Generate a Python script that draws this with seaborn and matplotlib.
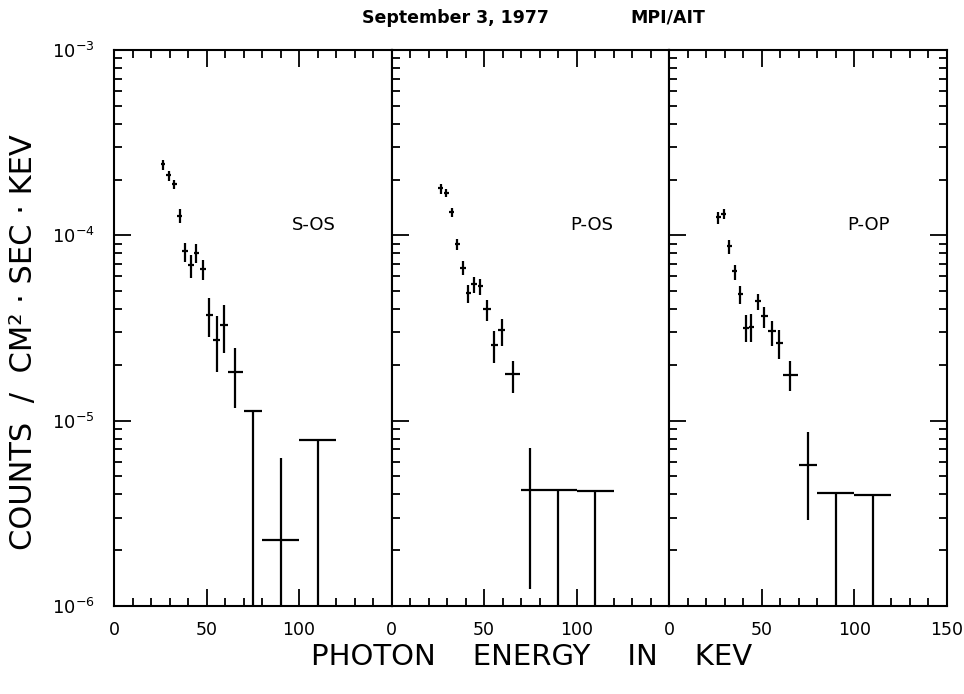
import numpy as np
import pandas as pd
import matplotlib
matplotlib.use('Agg')
import matplotlib.pyplot as plt
from matplotlib.ticker import FixedLocator, MultipleLocator, LogLocator, NullFormatter, FuncFormatter
import seaborn as sns

# ---------------------------------------------------------------
# data (Sept 3, 1977 flare)
# ---------------------------------------------------------------
detectors = ['S-OS', 'P-OS', 'P-OP']

# bin centres (keV) and half widths, same binning for all detectors
energy = [26.5, 29.5, 32.5, 35.5, 38.5, 41.5, 44.5, 48, 51.5, 55.5, 59.5, 65.5, 75, 90, 110]
half_width = [1.3, 1.3, 1.3, 1.3, 1.5, 1.5, 1.5, 1.5, 2, 2, 2, 4, 5, 10, 10]

# counts / cm2 sec keV, with upper and lower ends of the error bars
# (a lower end of 0 means the bar runs off the bottom of the plot)
sos_flux = [2.44e-4, 2.11e-4, 1.89e-4, 1.27e-4, 8.2e-5, 6.95e-5, 8.05e-5, 6.55e-5,
            3.72e-5, 2.73e-5, 3.28e-5, 1.82e-5, 1.13e-5, 2.28e-6, 7.85e-6]
sos_hi = [2.56e-4, 2.23e-4, 2.0e-4, 1.38e-4, 9.08e-5, 7.87e-5, 8.93e-5, 7.4e-5,
          4.58e-5, 3.65e-5, 4.19e-5, 2.46e-5, 1.13e-5, 6.26e-6, 7.85e-6]
sos_lo = [2.26e-4, 1.97e-4, 1.77e-4, 1.16e-4, 7.18e-5, 5.88e-5, 7.08e-5, 5.71e-5,
          2.84e-5, 1.82e-5, 2.32e-5, 1.17e-5, 0, 0, 0]

pos_flux = [1.79e-4, 1.69e-4, 1.33e-4, 8.97e-5, 6.68e-5, 4.87e-5, 5.43e-5, 5.32e-5,
            3.98e-5, 2.56e-5, 3.07e-5, 1.78e-5, 4.23e-6, 4.23e-6, 4.15e-6]
pos_hi = [1.88e-4, 1.77e-4, 1.41e-4, 9.59e-5, 7.23e-5, 5.37e-5, 5.96e-5, 5.78e-5,
          4.46e-5, 3.03e-5, 3.53e-5, 2.1e-5, 7.13e-6, 4.23e-6, 4.15e-6]
pos_lo = [1.68e-4, 1.6e-4, 1.25e-4, 8.37e-5, 6.08e-5, 4.31e-5, 4.9e-5, 4.78e-5,
          3.47e-5, 2.04e-5, 2.54e-5, 1.41e-5, 1.23e-6, 0, 0]

pop_flux = [1.26e-4, 1.31e-4, 8.75e-5, 6.38e-5, 4.84e-5, 3.17e-5, 3.22e-5, 4.42e-5,
            3.66e-5, 3.03e-5, 2.63e-5, 1.77e-5, 5.75e-6, 4.07e-6, 3.96e-6]
pop_hi = [1.34e-4, 1.38e-4, 9.4e-5, 6.89e-5, 5.3e-5, 3.7e-5, 3.78e-5, 4.8e-5,
          4.09e-5, 3.47e-5, 3.09e-5, 2.11e-5, 8.7e-6, 4.07e-6, 3.96e-6]
pop_lo = [1.15e-4, 1.23e-4, 7.96e-5, 5.71e-5, 4.24e-5, 2.65e-5, 2.65e-5, 3.94e-5,
          3.15e-5, 2.52e-5, 2.16e-5, 1.44e-5, 2.92e-6, 0, 0]

x_ticks = [0, 50, 100]
x_ticks_last = [0, 50, 100, 150]
y_ticks = [1e-6, 1e-5, 1e-4, 1e-3]

# long format table for FacetGrid
frames = []
for name, f, hi, lo in zip(detectors,
                           [sos_flux, pos_flux, pop_flux],
                           [sos_hi, pos_hi, pop_hi],
                           [sos_lo, pos_lo, pop_lo]):
    frames.append(pd.DataFrame({'detector': name, 'energy': energy, 'dE': half_width,
                                'flux': f, 'hi': hi, 'lo': lo}))
df = pd.concat(frames, ignore_index=True)

sns.set_style('ticks')
plt.rcParams['font.family'] = ['DejaVu Sans']
for key in ['text.color', 'axes.labelcolor', 'xtick.color', 'ytick.color', 'axes.edgecolor']:
    plt.rcParams[key] = 'black'
plt.rcParams['axes.linewidth'] = 1.5


def draw_spectrum(data, **kws):
    ax = plt.gca()
    yerr = [data['flux'] - data['lo'], data['hi'] - data['flux']]
    ax.errorbar(data['energy'], data['flux'], xerr=data['dE'], yerr=yerr,
                fmt='none', ecolor='black', elinewidth=1.6, capsize=0)


g = sns.FacetGrid(df, col='detector', col_order=detectors, sharex=False, sharey=True,
                  height=5.56, aspect=0.5, despine=False, gridspec_kws={'wspace': 0})
g.map_dataframe(draw_spectrum)
g.set_titles('')
g.set_axis_labels('', '')

fig = g.figure
fig.set_size_inches(9.64, 6.94)
fig.subplots_adjust(left=0.1183, right=0.982, top=0.928, bottom=0.1268, wspace=0)


def decade_label(v, pos):
    return r'$10^{%d}$' % int(round(np.log10(v)))


for i, (ax, name) in enumerate(zip(g.axes.flat, detectors)):
    ax.set_yscale('log', nonpositive='clip')
    ax.set_xlim(0, 150)
    last = i == len(detectors) - 1
    ax.xaxis.set_major_locator(FixedLocator(x_ticks_last if last else x_ticks))
    ax.xaxis.set_minor_locator(MultipleLocator(10))
    ax.yaxis.set_major_locator(FixedLocator(y_ticks))
    ax.yaxis.set_minor_locator(LogLocator(base=10, subs=np.arange(2, 10)))
    ax.yaxis.set_major_formatter(FuncFormatter(decade_label))
    ax.yaxis.set_minor_formatter(NullFormatter())
    ax.xaxis.set_ticks_position('both')
    ax.yaxis.set_ticks_position('both' if last else 'left')
    ax.tick_params(which='both', direction='in', width=1.3,
                   labelleft=(i == 0), labelright=False, labeltop=False)
    ax.tick_params(axis='x', pad=11, labelsize=12.5)
    ax.tick_params(axis='y', pad=14, labelsize=13)
    ax.tick_params(which='major', length=12)
    ax.tick_params(which='minor', length=6)
    for s in ax.spines.values():
        s.set_linewidth(1.5)
    ax.set_ylim(1e-6, 1e-3)
    ax.text(108, 1.13e-4, name, ha='center', va='center', fontsize=13)

fig.text(455 / 964, 1 - 18 / 694, 'September 3, 1977', ha='center', va='center',
         fontsize=12.5, fontweight='bold')
fig.text(668 / 964, 1 - 18 / 694, 'MPI/AIT', ha='center', va='center',
         fontsize=12.5, fontweight='bold')
fig.text(24 / 964, 1 - 342 / 694, 'COUNTS  /  CM\u00b2 \u00b7 SEC \u00b7 KEV', rotation=90,
         ha='center', va='center', fontsize=22)
fig.text(532 / 964, 1 - 657 / 694, 'PHOTON    ENERGY    IN    KEV', ha='center', va='center',
         fontsize=21)

fig.savefig('out.png', dpi=100)
